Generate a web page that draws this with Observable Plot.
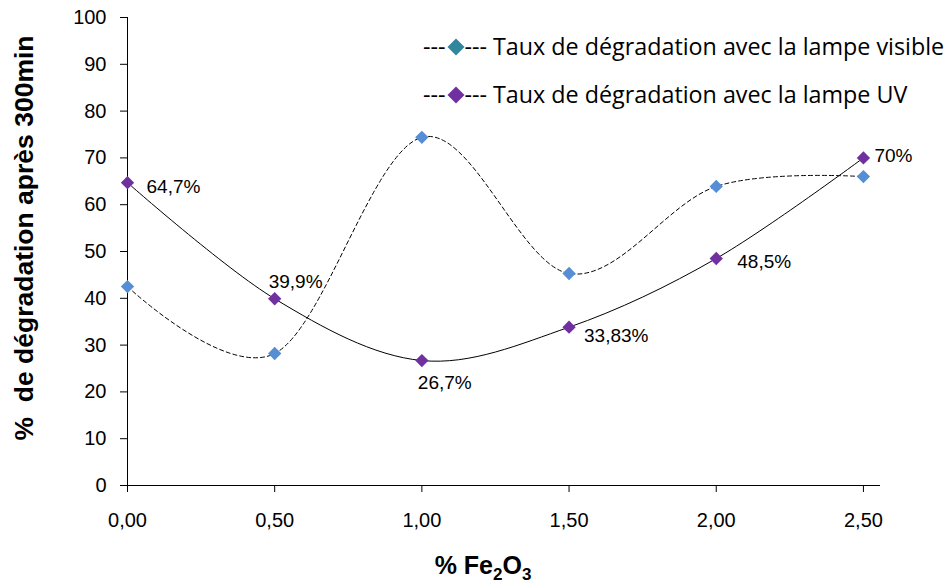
<!DOCTYPE html>
<html><head><meta charset="utf-8">
<script src="https://cdn.jsdelivr.net/npm/d3@7"></script>
<script src="https://cdn.jsdelivr.net/npm/@observablehq/plot@0.6"></script>
<style>
body{margin:0;background:#fff;}
#wrap{position:relative;width:947px;height:586px;font-family:"Liberation Sans",Arial,sans-serif;}
.ov{position:absolute;white-space:nowrap;color:#000;}
#ytitle{left:24px;top:238px;transform:translate(-50%,-50%) rotate(-90deg);font-weight:bold;font-size:26.5px;}
#xtitle{left:483px;top:568px;transform:translate(-50%,-50%);font-weight:bold;font-size:25px;}
.leg{font-family:"Open Sans",sans-serif;font-size:23.3px;left:423px;line-height:1;}
.leg .d{display:inline-block;width:12px;height:12px;transform:rotate(45deg);margin:0 3px 2px 4px;}
</style></head>
<body><div id="wrap"></div>
<script>
const fe2o3 = [0, 0.5, 1.0, 1.5, 2.0, 2.5];
const visible = [42.5, 28.2, 74.4, 45.3, 63.9, 66.0];
const uv = [64.7, 39.9, 26.7, 33.83, 48.5, 70.0];
const uvLabels = ["64,7%", "39,9%", "26,7%", "33,83%", "48,5%", "70%"];
const xTicks = [0, 0.5, 1.0, 1.5, 2.0, 2.5];
const yTicks = [0, 10, 20, 30, 40, 50, 60, 70, 80, 90, 100];
const seriesNames = ["Taux de dégradation avec la lampe visible", "Taux de dégradation avec la lampe UV"];
const colVisible = "#558ED5", colUV = "#7030A0", colLegVisible = "#31859C";

const vis = fe2o3.map((x,i)=>({x, y: visible[i]}));
const uvd = fe2o3.map((x,i)=>({x, y: uv[i], label: uvLabels[i], i}));
// label offsets (dx, dy) per point
const lblPos = [[19,4],[-6,-17],[-4,22],[15,9],[21,3],[11,-2]];

const fmt = v => v.toFixed(2).replace(".", ",");

const chart = Plot.plot({
  width: 947, height: 586,
  marginLeft: 127, marginRight: 67, marginTop: 17, marginBottom: 101,
  style: {fontFamily: '"Liberation Sans", Arial, sans-serif', fontSize: "20px", color: "#000", background: "#fff"},
  x: {domain: [0, 2.558], ticks: xTicks, tickFormat: fmt, tickSize: 7, tickPadding: 20, label: null},
  y: {domain: [0, 100], ticks: yTicks, tickSize: 7, tickPadding: 14, label: null},
  marks: [
    Plot.ruleX([0], {stroke: "#000", strokeWidth: 1}),
    Plot.ruleY([0], {stroke: "#000", strokeWidth: 1}),
    Plot.line(vis, {x: "x", y: "y", curve: "cardinal", tension: 0, stroke: "#000", strokeWidth: 1, strokeDasharray: "4,3"}),
    Plot.line(uvd, {x: "x", y: "y", curve: "cardinal", tension: 0, stroke: "#000", strokeWidth: 1}),
    Plot.dot(vis, {x: "x", y: "y", symbol: "diamond2", r: 6, fill: colVisible, stroke: "none"}),
    Plot.dot(uvd, {x: "x", y: "y", symbol: "diamond2", r: 6, fill: colUV, stroke: "none"}),
    ...uvd.map((d,i)=>Plot.text([d], {x: "x", y: "y", text: "label", dx: lblPos[i][0], dy: lblPos[i][1], textAnchor: "start", fontSize: 19, fill: "#000"}))
  ]
});
const wrap = document.getElementById("wrap");
wrap.appendChild(chart);
chart.style.position = "absolute"; chart.style.left = "0"; chart.style.top = "0";

function addDiv(id, cls, html, style){
  const d = document.createElement("div");
  if(id) d.id = id; d.className = "ov " + (cls||""); d.innerHTML = html;
  if(style) Object.assign(d.style, style);
  wrap.appendChild(d);
}
addDiv("ytitle", "", "%&nbsp; de dégradation après 300min");
addDiv("xtitle", "", "% Fe<sub style='font-size:17px'>2</sub>O<sub style='font-size:17px'>3</sub>");
addDiv(null, "leg", `---<span class="d" style="background:${colLegVisible}"></span>--- ${seriesNames[0]}`, {top: "35px"});
addDiv(null, "leg", `---<span class="d" style="background:${colUV}"></span>--- ${seriesNames[1]}`, {top: "83px"});
</script>
</body></html>
